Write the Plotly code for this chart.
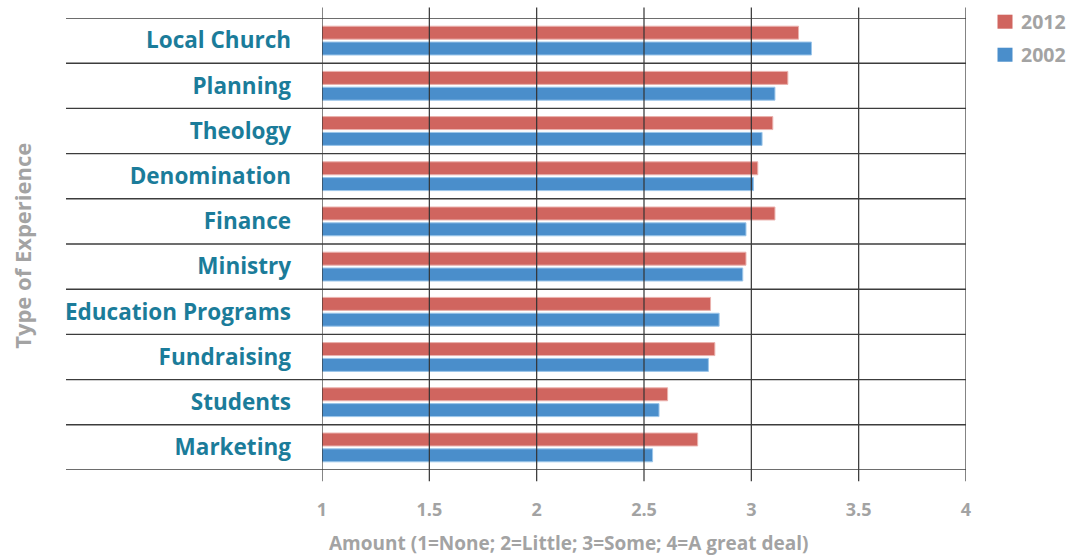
import plotly.graph_objects as go

categories = ["Local Church", "Planning", "Theology", "Denomination", "Finance",
              "Ministry", "Education Programs", "Fundraising", "Students", "Marketing"]
values_2012 = [3.22, 3.17, 3.10, 3.03, 3.11, 2.975, 2.81, 2.83, 2.61, 2.75]
values_2002 = [3.28, 3.11, 3.05, 3.01, 2.975, 2.96, 2.85, 2.80, 2.57, 2.54]
x_ticks = [1, 1.5, 2, 2.5, 3, 3.5, 4]
x_tick_labels = ["1", "1.5", "2", "2.5", "3", "3.5", "4"]
series_names = ["2012", "2002"]
RED = "#D0655F"
BLUE = "#4A8ECB"
GRAY = "#A3A3A3"
TEAL = "#1B7C9A"

fig = go.Figure()
fig.add_trace(go.Bar(y=categories, x=values_2012, orientation="h", name=series_names[0],
                     marker=dict(color=RED, line=dict(color="#EBB2AE", width=1)),
                     base=0, showlegend=False))
fig.add_trace(go.Bar(y=categories, x=values_2002, orientation="h", name=series_names[1],
                     marker=dict(color=BLUE, line=dict(color="#9CC6EA", width=1)),
                     base=0, showlegend=False))

shapes = []
# vertical grid lines above bars
for t in x_ticks:
    shapes.append(dict(type="line", xref="x", yref="paper", x0=t, x1=t, y0=-0.025, y1=1.023,
                       line=dict(color="#333333", width=1.2), layer="above"))
# horizontal separators
for k in range(len(categories) + 1):
    shapes.append(dict(type="line", xref="paper", yref="y", x0=-0.3975, x1=1, y0=k - 0.5, y1=k - 0.5,
                       line=dict(color="#3c3c3c", width=1.4), layer="above"))
# manual legend swatches
leg_y = [22, 55]
H = 451.7
for i, (c, yy) in enumerate(zip([RED, BLUE], leg_y)):
    shapes.append(dict(type="rect", xref="paper", yref="paper",
                       x0=(997.5 - 322) / 644, x1=(1012.5 - 322) / 644,
                       y0=(470 - yy - 7) / H, y1=(470 - yy + 7) / H,
                       fillcolor=c, line=dict(width=0)))

annotations = []
for name, yy in zip(series_names, leg_y):
    annotations.append(dict(text=name, xref="paper", yref="paper", x=(1019 - 322) / 644,
                            y=(470 - yy) / H, xanchor="left", yanchor="middle", showarrow=False,
                            font=dict(family="Open Sans", size=19.5, color=GRAY, weight="bold")))
annotations.append(dict(text="Amount (1=None; 2=Little; 3=Some; 4=A great deal)", xref="paper", yref="paper",
                        x=(568 - 322) / 644, y=(470 - 543) / H, xanchor="center", yanchor="middle",
                        showarrow=False, font=dict(family="Open Sans", size=19, color=GRAY, weight="bold")))
annotations.append(dict(text="Type of Experience", xref="paper", yref="paper", textangle=-90,
                        x=(22 - 322) / 644, y=(470 - 246) / H, xanchor="center", yanchor="middle",
                        showarrow=False, font=dict(family="Open Sans", size=22, color=GRAY, weight="bold")))

fig.update_layout(
    width=1072, height=558,
    margin=dict(l=322, r=106, t=18, b=88),
    paper_bgcolor="white", plot_bgcolor="white",
    barmode="group", bargap=0.30, bargroupgap=0.18,
    shapes=shapes, annotations=annotations,
    xaxis=dict(range=[1, 4], tickvals=x_ticks, ticktext=x_tick_labels, showgrid=False,
               zeroline=False, showline=False, ticks="", ticklabelstandoff=27,
               tickfont=dict(family="Open Sans", size=18, color=GRAY, weight="bold")),
    yaxis=dict(categoryorder="array", categoryarray=categories, range=[9.5, -0.5],
               showgrid=False, zeroline=False, showline=False, ticks="", ticklabelstandoff=30,
               tickfont=dict(family="Open Sans", size=22.5, color=TEAL, weight="bold")),
)

fig.write_html("out.html")
